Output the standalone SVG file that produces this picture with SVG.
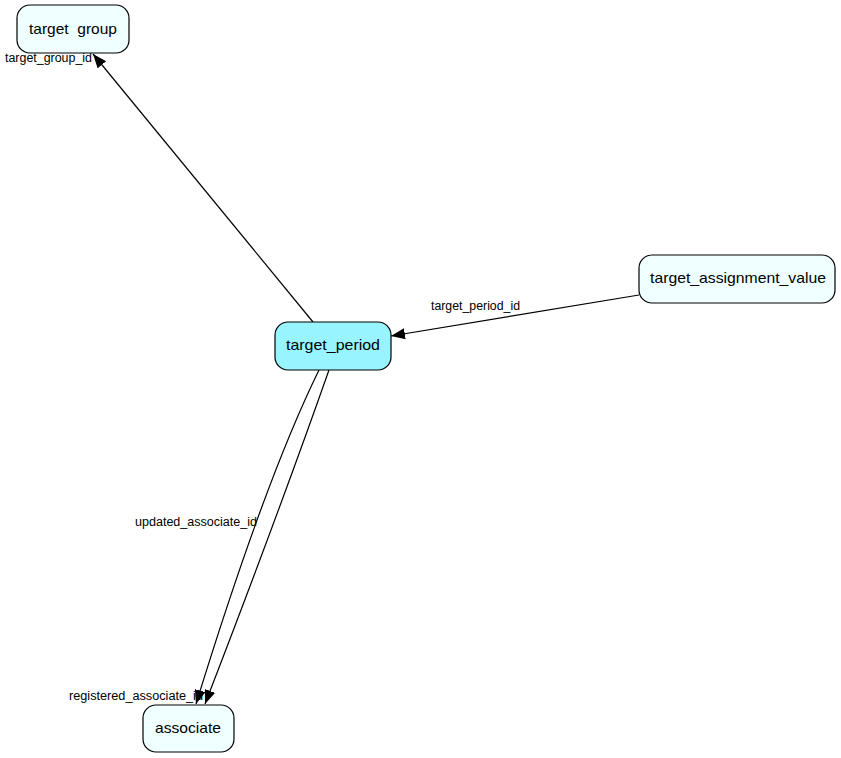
<svg xmlns="http://www.w3.org/2000/svg" width="841" height="758" viewBox="0 0 841 758">
<style>
.node rect{fill:#f0ffff;stroke:#000;stroke-width:1.2}
.node.main rect{fill:#98f5ff}
.node text{font-family:"Liberation Sans",Arial,sans-serif;font-size:15px;fill:#000}
.edge path{fill:none;stroke:#000;stroke-width:1.2}
.lbl{font-family:"Liberation Sans",Arial,sans-serif;font-size:12px;fill:#000}
</style>
<defs>
<marker id="arr" markerUnits="userSpaceOnUse" markerWidth="16" markerHeight="12" refX="14" refY="5.5" orient="auto">
<path d="M0,0 L14,5.5 L0,11 z" fill="#000"/>
</marker>
</defs>
<rect width="841" height="758" fill="#fff"/>
<g id="connectors">
<g class="edge" id="e1"><path d="M313,322 L93,54" marker-end="url(#arr)"/><text class="lbl" x="5" y="62" textLength="87" lengthAdjust="spacingAndGlyphs">target_group_id</text></g>
<g class="edge" id="e2"><path d="M639,295 L391,336" marker-end="url(#arr)"/><text class="lbl" x="431" y="310" textLength="89" lengthAdjust="spacingAndGlyphs">target_period_id</text></g>
<g class="edge" id="e3"><path d="M319,370 Q265,480 196,704" marker-end="url(#arr)"/><text class="lbl" x="135" y="526" textLength="122" lengthAdjust="spacingAndGlyphs">updated_associate_id</text></g>
<g class="edge" id="e4"><path d="M329,370 Q278,515 205,704" marker-end="url(#arr)"/><text class="lbl" x="69" y="700" textLength="134" lengthAdjust="spacingAndGlyphs">registered_associate_id</text></g>
</g>
<g class="node" id="target_group"><rect x="17" y="5" width="112" height="48" rx="13"/><text x="29" y="34" xml:space="preserve" textLength="88" lengthAdjust="spacingAndGlyphs">target  group</text></g>
<g class="node main" id="target_period"><rect x="275" y="322" width="116" height="48" rx="13"/><text x="286" y="350" textLength="94" lengthAdjust="spacingAndGlyphs">target_period</text></g>
<g class="node" id="target_assignment_value"><rect x="639" y="255" width="196" height="48" rx="13"/><text x="650" y="283" textLength="176" lengthAdjust="spacingAndGlyphs">target_assignment_value</text></g>
<g class="node" id="associate"><rect x="143" y="705" width="91" height="47" rx="13"/><text x="155" y="733" textLength="66" lengthAdjust="spacingAndGlyphs">associate</text></g>
</svg>
